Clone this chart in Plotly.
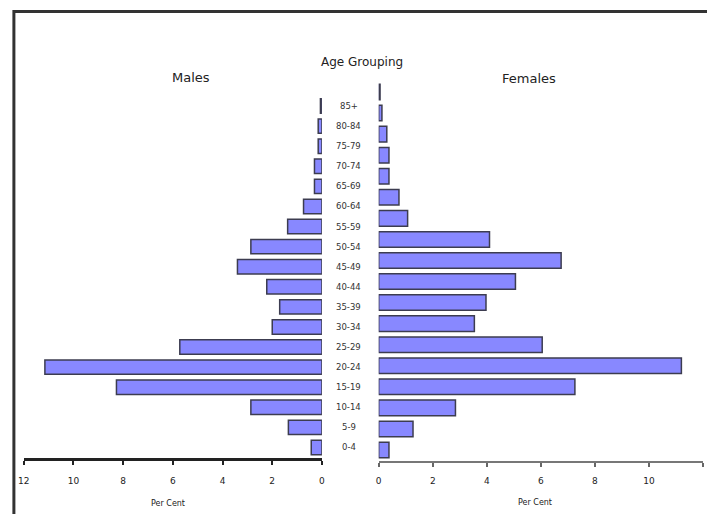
import plotly.graph_objects as go

ages = ["0-4", "5-9", "10-14", "15-19", "20-24", "25-29", "30-34", "35-39",
        "40-44", "45-49", "50-54", "55-59", "60-64", "65-69", "70-74",
        "75-79", "80-84", "85+"]
males = [0.43, 1.35, 2.86, 8.27, 11.15, 5.72, 2.0, 1.7, 2.22, 3.4, 2.86,
         1.38, 0.74, 0.3, 0.3, 0.15, 0.15, 0.06]
females = [0.38, 1.27, 2.84, 7.26, 11.2, 6.05, 3.54, 3.97, 5.06, 6.75, 4.1,
           1.07, 0.75, 0.38, 0.38, 0.3, 0.12, 0.05]
x_ticks = [0, 2, 4, 6, 8, 10, 12]

W, H = 707, 514
def px(x):
    return x / W
def py(y):
    return 1 - y / H

FONT = "DejaVu Sans"
FILL = "#8888FF"
EDGE = "#3c3c50"

fig = go.Figure()
fig.add_trace(go.Bar(y=ages, x=males, orientation="h", xaxis="x", yaxis="y",
                     marker=dict(color=FILL, line=dict(color=EDGE, width=1.5)),
                     width=0.72, showlegend=False))
fig.add_trace(go.Bar(y=ages, x=females, orientation="h", xaxis="x2", yaxis="y2",
                     marker=dict(color=FILL, line=dict(color=EDGE, width=1.5)),
                     width=0.74, showlegend=False))

axis_font = dict(family=FONT, size=9, color="#222")
fig.update_layout(
    width=W, height=H, autosize=False,
    margin=dict(l=0, r=0, t=0, b=0),
    paper_bgcolor="white", plot_bgcolor="white",
    xaxis=dict(domain=[px(18), px(320)], range=[12, 0], tickvals=x_ticks,
               ticks="outside", ticklen=4, tickcolor="#222", tickwidth=1.5,
               showline=True, linecolor="#222", linewidth=3,
               showgrid=False, zeroline=False, tickfont=axis_font,
               ticklabelstandoff=9, anchor="y"),
    yaxis=dict(domain=[py(457.5), py(96)], showticklabels=False, showgrid=False,
               zeroline=False, showline=False, anchor="x",
               categoryorder="array", categoryarray=ages, range=[-0.5, 17.5]),
    xaxis2=dict(domain=[px(377.5), px(706)], range=[0, 12], tickvals=x_ticks,
                ticks="outside", ticklen=4, tickcolor="#666", tickwidth=1.5,
                showline=True, linecolor="#777", linewidth=2,
                showgrid=False, zeroline=False, tickfont=axis_font,
                ticklabelstandoff=7, anchor="y2"),
    yaxis2=dict(domain=[py(460.5), py(81.5)], showticklabels=False, showgrid=False,
                zeroline=False, showline=False, anchor="x2",
                categoryorder="array", categoryarray=ages, range=[-0.5, 17.5]),
    bargap=0.3,
)

for a in ages:
    fig.add_annotation(x=px(347), xref="paper", y=a, yref="y", text=a,
                       showarrow=False, xanchor="center", yanchor="middle",
                       font=dict(family=FONT, size=8.5, color="#333"))

titles = [
    ("Males", 187, 77, 13),
    ("Females", 530, 78, 13),
    ("Age Grouping", 361, 62, 12),
    ("Per Cent", 164, 503, 8),
    ("Per Cent", 536, 502, 8),
]
for t, x, y, s in titles:
    fig.add_annotation(x=px(x), y=py(y), xref="paper", yref="paper", text=t,
                       showarrow=False, xanchor="center", yanchor="middle",
                       font=dict(family=FONT, size=s, color="#222"))

fig.add_shape(type="rect", xref="paper", yref="paper",
              x0=px(8), x1=px(730), y0=py(540), y1=py(11.5),
              line=dict(color="#333", width=3), fillcolor="rgba(0,0,0,0)")

fig.write_html("out.html",
               config={"displayModeBar": False},
               post_script="document.body.style.margin='0';"
                           "document.body.style.overflow='hidden';")
